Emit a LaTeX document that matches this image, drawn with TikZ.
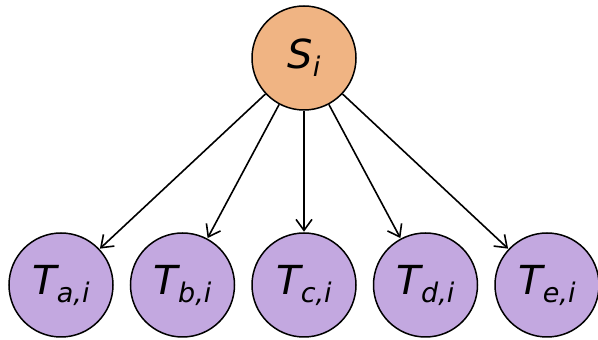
\documentclass[tikz,border=0pt]{standalone}
\usepackage{fontspec}
\setmainfont{DejaVu Sans}
\usetikzlibrary{arrows.meta}
\definecolor{snode}{HTML}{F0B483}
\definecolor{tnode}{HTML}{C3A8E0}
\newcommand{\lbl}[2]{\itshape #1\raisebox{-8pt}{\fontsize{27}{27}\selectfont\itshape #2}}
\begin{document}
\begin{tikzpicture}[x=1pt,y=1pt,
  vnode/.style={circle,draw=black,line width=1.5pt,minimum size=104pt,inner sep=0pt,font=\fontsize{40}{40}\selectfont},
  edge/.style={line width=1.6pt,-{Straight Barb[length=11pt,width=16pt,line width=1.6pt]},shorten >=0.5pt}]
\useasboundingbox (0,0) rectangle (598,340);
\node[vnode,fill=snode] (s) at (304,282) {\lbl{S}{i}};
\node[vnode,fill=tnode] (ta) at (61,55) {\lbl{T}{a,i}};
\node[vnode,fill=tnode] (tb) at (182.5,55) {\lbl{T}{b,i}};
\node[vnode,fill=tnode] (tc) at (304,55) {\lbl{T}{c,i}};
\node[vnode,fill=tnode] (td) at (425.5,55) {\lbl{T}{d,i}};
\node[vnode,fill=tnode] (te) at (547,55) {\lbl{T}{e,i}};
\foreach \t in {ta,tb,tc,td,te} \draw[edge] (s) -- (\t);
\end{tikzpicture}
\end{document}
